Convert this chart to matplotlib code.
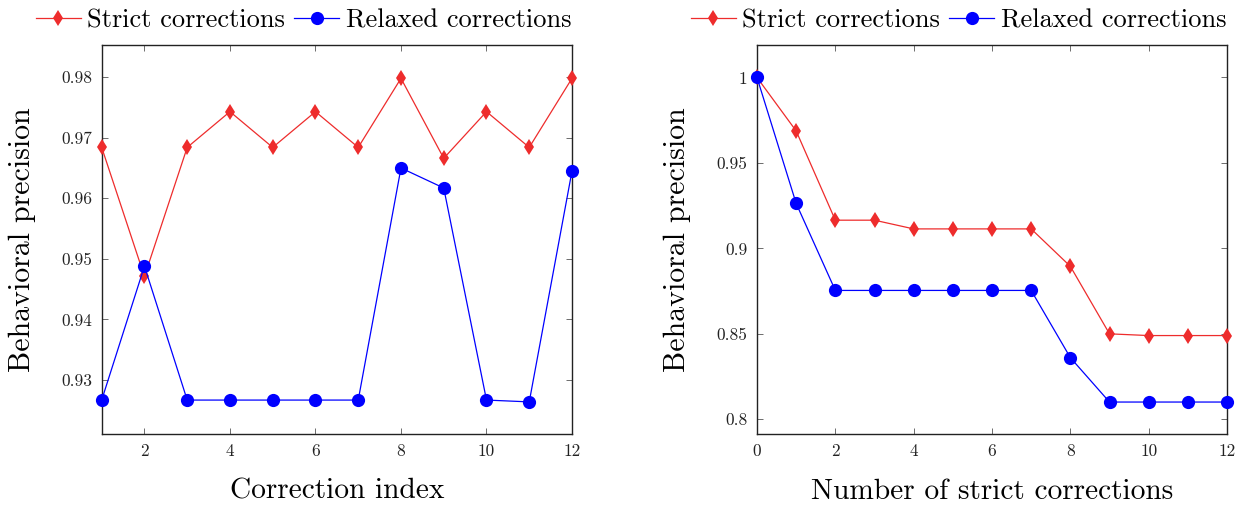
import matplotlib
matplotlib.use('Agg')
import matplotlib.pyplot as plt
import matplotlib.ticker as ticker

# left panel: per correction index
corr_index = [1, 2, 3, 4, 5, 6, 7, 8, 9, 10, 11, 12]
strict_left = [0.9684, 0.9471, 0.9684, 0.9743, 0.9684, 0.9743,
               0.9684, 0.9798, 0.9666, 0.9743, 0.9684, 0.9798]
relaxed_left = [0.9267, 0.9488, 0.9267, 0.9267, 0.9267, 0.9267,
                0.9267, 0.9650, 0.9617, 0.9267, 0.9264, 0.9645]

# right panel: by number of strict corrections
n_strict = [0, 1, 2, 3, 4, 5, 6, 7, 8, 9, 10, 11, 12]
strict_right = [1.0, 0.9687, 0.9165, 0.9165, 0.9114, 0.9114, 0.9114,
                0.9114, 0.8895, 0.8500, 0.8490, 0.8490, 0.8490]
relaxed_right = [1.0, 0.9263, 0.8754, 0.8754, 0.8754, 0.8754, 0.8754,
                 0.8754, 0.8361, 0.8101, 0.8101, 0.8101, 0.8101]

left_xticks = [2, 4, 6, 8, 10, 12]
left_yticks = [0.93, 0.94, 0.95, 0.96, 0.97, 0.98]
left_ylabels = ['0.93', '0.94', '0.95', '0.96', '0.97', '0.98']
right_xticks = [0, 2, 4, 6, 8, 10, 12]
right_yticks = [0.8, 0.85, 0.9, 0.95, 1.0]
right_ylabels = ['0.8', '0.85', '0.9', '0.95', '1']

plt.rcParams['font.family'] = ['cmr10', 'DejaVu Serif']
plt.rcParams['axes.formatter.use_mathtext'] = True
plt.rcParams['mathtext.fontset'] = 'cm'

RED = '#EE2C2C'
BLUE = '#0000FF'

fig = plt.figure(figsize=(12.44, 5.05), dpi=100)
W, H = 1244, 505
ax1 = fig.add_axes([101.7 / W, 1 - 434 / H, (572 - 101.7) / W, (434 - 45) / H])
ax2 = fig.add_axes([757 / W, 1 - 434 / H, (1227 - 757) / W, (434 - 45) / H])


def style(ax, xticks, yticks, ylabels, xlabel):
    ax.set_xticks(xticks)
    ax.set_xticklabels([str(t) for t in xticks])
    ax.set_yticks(yticks)
    ax.set_yticklabels(ylabels)
    ax.tick_params(direction='in', length=4, width=0.6, color='#555555',
                   top=True, right=True, labelsize=12.5, pad=7,
                   labelcolor='#222222')
    for s in ax.spines.values():
        s.set_linewidth(1.0)
        s.set_color('#222222')
    ax.set_xlabel(xlabel, fontsize=21.2, labelpad=14)
    ax.set_ylabel('Behavioral precision', fontsize=21.5, labelpad=18)


for ax, x, s, r in [(ax1, corr_index, strict_left, relaxed_left),
                    (ax2, n_strict, strict_right, relaxed_right)]:
    ax.plot(x, s, color=RED, lw=0.9, marker='d', markersize=8,
            markeredgewidth=0, label='Strict corrections', clip_on=False, zorder=3)
    ax.plot(x, r, color=BLUE, lw=0.9, marker='o', markersize=9.5,
            markeredgewidth=0, label='Relaxed corrections', clip_on=False, zorder=4)
    ax.legend(loc='lower right', bbox_to_anchor=(1.01, 1.018), ncol=2,
              frameon=False, fontsize=19, handlelength=1.7, handletextpad=0.25,
              columnspacing=0.35, borderaxespad=0.1, borderpad=0.1)

ax1.set_xlim(1, 12)
ax1.set_ylim(0.9211, 0.9853)
ax2.set_xlim(0, 12)
ax2.set_ylim(0.7914, 1.019)

style(ax1, left_xticks, left_yticks, left_ylabels, 'Correction index')
style(ax2, right_xticks, right_yticks, right_ylabels, 'Number of strict corrections')

fig.savefig('out.png', dpi=100)
